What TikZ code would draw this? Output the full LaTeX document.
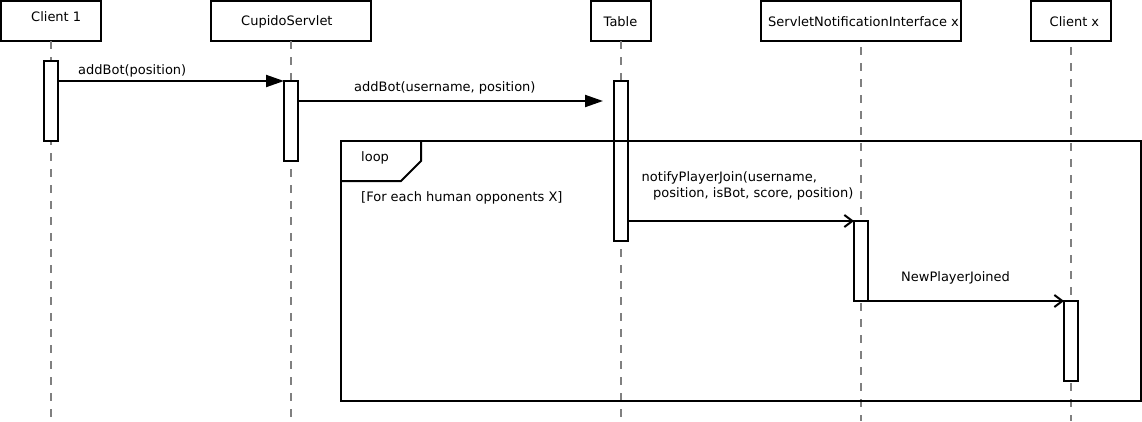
\documentclass[tikz,border=0pt]{standalone}
\usepackage{fontspec}
\setmainfont{DejaVu Sans}
\usetikzlibrary{arrows.meta}
\begin{document}
\begin{tikzpicture}[x=1pt,y=-1pt,
  every node/.style={font=\fontsize{13}{15}\selectfont},
  head/.style={draw, line width=2pt, fill=white, minimum height=40pt, inner sep=0pt, outer sep=0pt},
  act/.style={draw, line width=2pt, fill=white, minimum width=14pt, inner sep=0pt, outer sep=0pt},
  life/.style={draw=black!50, line width=2pt, dash pattern=on 8pt off 8pt},
  txt/.style={anchor=base west, inner sep=0pt},
  syncmsg/.style={line width=2pt, -{Triangle[length=18pt,width=12pt]}},
  asyncmsg/.style={line width=2pt, -{Straight Barb[length=8pt,width=12pt,line width=2pt]}},
  frame/.style={line width=2pt}]
\useasboundingbox (0,0) rectangle (1142,421);
\coordinate (bottom) at (0,421);
% headers
\node[head, minimum width=100pt] (h1) at (51,21) {};
\node[head, minimum width=160pt] (h2) at (291,21) {};
\node[head, minimum width=60pt] (h3) at (621,21) {};
\node[head, minimum width=200pt] (h4) at (861,21) {};
\node[head, minimum width=80pt] (h5) at (1071,21) {};
\node[txt] (t1) at (31,21.7) {Client 1};
\node[txt] (t2) at (241,25) {CupidoServlet};
\node[txt] (t3) at (603.5,26.5) {Table};
\node[txt] (t4) at (768,26) {ServletNotificationInterface x};
\node[txt] (t5) at (1049.5,26) {Client x};
% lifelines
\draw[life] (h1.south) -- (h1.south |- bottom);
\draw[life] (h2.south) -- (h2.south |- bottom);
\draw[life] (h3.south) -- (h3.south |- bottom);
\draw[life, dash phase=10pt] (h4.south) -- (h4.south |- bottom);
\draw[life, dash phase=10pt] (h5.south) -- (h5.south |- bottom);
% activations
\node[act, minimum height=80pt] (a1) at (51,101) {};
\node[act, minimum height=80pt] (a2) at (291,121) {};
\node[act, minimum height=160pt] (a3) at (621,161) {};
\node[act, minimum height=80pt] (a4) at (861,261) {};
\node[act, minimum height=80pt] (a5) at (1071,341) {};
% loop frame
\draw[frame] (341,141) rectangle (1141,401);
\draw[frame] (421,141) -- (421,161) -- (401,181) -- (341,181);
\node[txt] (lp) at (361,161.5) {loop};
\node[txt] (gd) at (361,201.5) {[For each human opponents X]};
% messages
\coordinate (m2end) at (603,101);
\draw[syncmsg] (a1.east |- a2.north) -- (a2.north west);
\node[txt] (l1) at (78,74) {addBot(position)};
\draw[syncmsg] (a2.east |- m2end) -- (m2end);
\node[txt] (l2) at (354,91.5) {addBot(username, position)};
\draw[asyncmsg] (a3.east |- a4.north) -- (a4.north west);
\node[txt] (l3a) at (641.5,181.7) {notifyPlayerJoin(username,};
\node[txt] (l3b) at (653,197.7) {position, isBot, score, position)};
\draw[asyncmsg] (a4.south east) -- (a5.north west);
\node[txt] (l4) at (901,281) {NewPlayerJoined};
\end{tikzpicture}
\end{document}
